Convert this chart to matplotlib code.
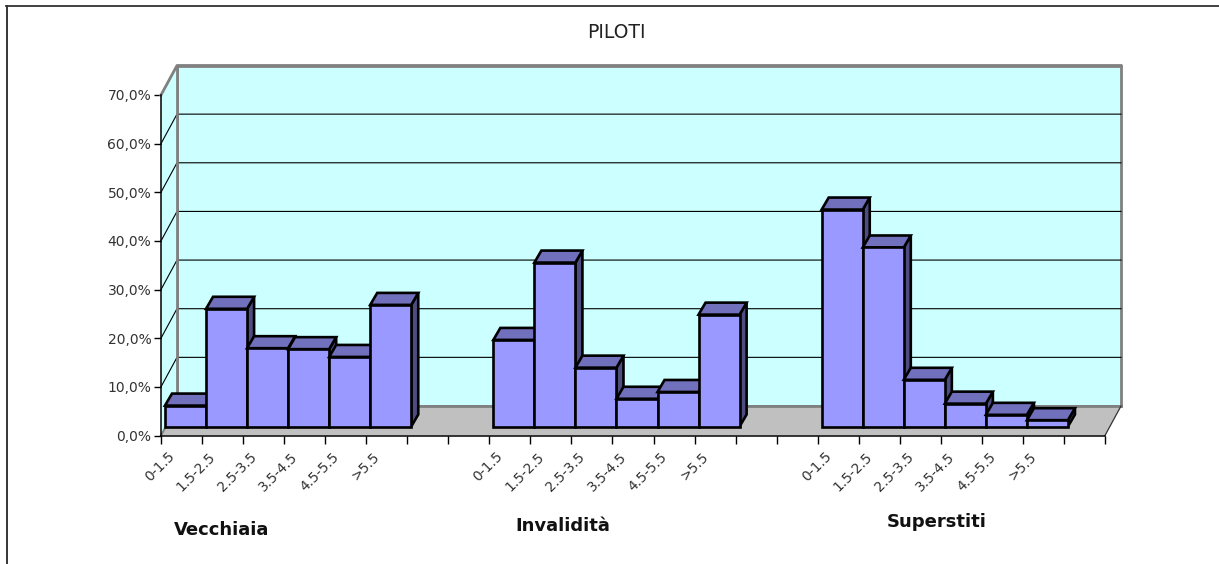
import matplotlib
matplotlib.use('Agg')
import matplotlib.pyplot as plt
from matplotlib.patches import Polygon

categories = ['0-1.5', '1.5-2.5', '2.5-3.5', '3.5-4.5', '4.5-5.5', '>5.5', '', '',
              '0-1.5', '1.5-2.5', '2.5-3.5', '3.5-4.5', '4.5-5.5', '>5.5', '', '',
              '0-1.5', '1.5-2.5', '2.5-3.5', '3.5-4.5', '4.5-5.5', '>5.5', '']
values = [4.3, 24.2, 16.1, 15.9, 14.3, 25.0, 0, 0,
          17.8, 33.7, 12.1, 5.7, 7.1, 23.0, 0, 0,
          44.6, 36.8, 9.6, 4.7, 2.4, 1.3, 0]
yticks = [0, 10, 20, 30, 40, 50, 60, 70]
ylabels = ['0,0%', '10,0%', '20,0%', '30,0%', '40,0%', '50,0%', '60,0%', '70,0%']

W, H = 1219, 564
fig = plt.figure(figsize=(W / 100, H / 100), dpi=100)
fig.patch.set_facecolor('white')
ax = fig.add_axes([161 / W, 1 - 435.5 / H, 944 / W, 340.5 / H])
ax.set_xlim(0, 23)
ax.set_ylim(0, 70)
ax.patch.set_visible(False)

# depth of the fake 3d box, in axis units
ux = 1 / 41.04
uy = 70 / 340.5
DX, DY = 16 * ux, 29.5 * uy
BX, BY = 4 * ux, 9 * uy      # where bars stand on the floor
SX, SY = 7 * ux, 12 * uy     # depth of a bar


def poly(pts, fc, ec='none', lw=0, z=1):
    ax.add_patch(Polygon(pts, closed=True, facecolor=fc, edgecolor=ec, linewidth=lw,
                         zorder=z, clip_on=False, joinstyle='miter'))


wall = '#CCFFFF'
grey = '#808080'
poly([(DX, DY), (23 + DX, DY), (23 + DX, 70 + DY), (DX, 70 + DY)], wall, grey, 2.0, 1)
poly([(0, 0), (DX, DY), (DX, 70 + DY), (0, 70)], wall, z=1.1)
poly([(0, 0), (23, 0), (23 + DX, DY), (DX, DY)], '#C0C0C0', z=1.2)

for t in yticks[1:-1]:
    ax.plot([0, DX, 23 + DX], [t, t + DY, t + DY], color='black', lw=0.8, zorder=1.5, clip_on=False)
ax.plot([DX, DX], [DY, 70 + DY], color=grey, lw=2.0, zorder=1.6, clip_on=False)
ax.plot([0, DX, 23 + DX], [70, 70 + DY, 70 + DY], color=grey, lw=2.0, zorder=1.6, clip_on=False)
ax.plot([DX, 23 + DX], [DY, DY], color=grey, lw=2.0, zorder=1.6, clip_on=False)
ax.plot([0, DX], [0, DY], color=grey, lw=1.5, zorder=1.6, clip_on=False)
ax.plot([23, 23 + DX], [0, DY], color='#333333', lw=0.9, zorder=1.6, clip_on=False)

for i, v in enumerate(values):
    if v == 0:
        continue
    x0, x1 = i + BX, i + 1 + BX
    y0, y1 = BY, BY + v
    z = 2 + i * 0.01
    poly([(x1, y0), (x1 + SX, y0 + SY), (x1 + SX, y1 + SY), (x1, y1)], '#4D4D80', 'black', 1.9, z)
    poly([(x0, y1), (x1, y1), (x1 + SX, y1 + SY), (x0 + SX, y1 + SY)], '#7070BC', 'black', 1.9, z)
    poly([(x0, y0), (x1, y0), (x1, y1), (x0, y1)], '#9999FF', 'black', 1.9, z)

for s in ['top', 'right']:
    ax.spines[s].set_visible(False)
for s in ['left', 'bottom']:
    ax.spines[s].set_linewidth(1.1)
    ax.spines[s].set_zorder(1.8)
ax.set_yticks(yticks)
ax.set_yticklabels(ylabels, fontsize=10, color='#333333')
ax.tick_params(axis='y', length=5, width=1, pad=2)
ax.set_xticks(range(24))
ax.set_xticklabels([])
ax.tick_params(axis='x', which='major', length=6, width=1)
# labels sit left of the category centre in the original
ax.set_xticks([i + 0.16 for i in range(23)], minor=True)
ax.set_xticklabels(categories, minor=True, rotation=45, ha='right', va='top',
                   rotation_mode='anchor', fontsize=10, color='#333333')
ax.tick_params(axis='x', which='minor', length=0, pad=10)

# chart frame: open on the right and at the bottom
fig.add_artist(plt.Line2D([6.5 / W, 6.5 / W], [0, 1 - 5.5 / H], color='black', lw=1.1))
fig.add_artist(plt.Line2D([6 / W, 1], [1 - 5.5 / H, 1 - 5.5 / H], color='#333333', lw=1.3))

fig.text(616 / W, 1 - 33 / H, 'PILOTI', ha='center', va='center', fontsize=13.5, color='#222222')
fig.text(222 / W, 1 - 530 / H, 'Vecchiaia', ha='center', va='center', fontsize=13, fontweight='bold', color='#111111')
fig.text(563 / W, 1 - 526 / H, 'Invalidità', ha='center', va='center', fontsize=13, fontweight='bold', color='#111111')
fig.text(937 / W, 1 - 522 / H, 'Superstiti', ha='center', va='center', fontsize=13, fontweight='bold', color='#111111')

fig.savefig('out.png', dpi=100)
